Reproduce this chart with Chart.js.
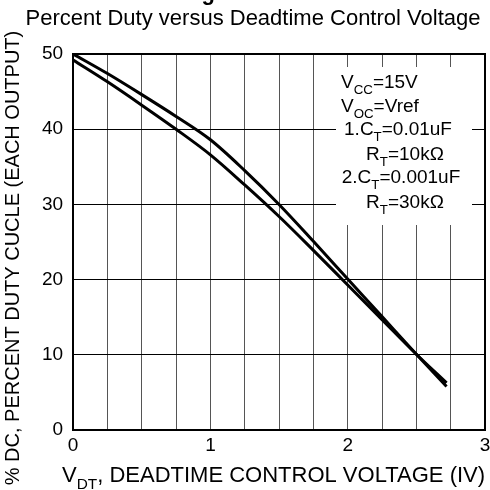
<!DOCTYPE html>
<html>
<head>
<meta charset="utf-8">
<script src="https://cdn.jsdelivr.net/npm/chart.js@4.4.0/dist/chart.umd.min.js"></script>
<style>
  html, body { margin: 0; padding: 0; background: #fff; }
  #wrap { width: 490px; height: 490px; }
</style>
</head>
<body>
<div id="wrap"><canvas id="dutyChart" width="490" height="490"></canvas></div>
<script>
// Data
const voltage = [0, 0.25, 0.5, 0.75, 1.0, 1.25, 1.5, 1.75, 2.0, 2.25, 2.5, 2.72];
const dutyUpper = [50, 47.4, 44.6, 41.7, 38.6, 34.5, 30.0, 25.1, 20.1, 15.1, 10.1, 5.8];
const dutyLower = [49.2, 46.3, 43.2, 40.0, 36.6, 32.6, 28.4, 23.9, 19.3, 14.7, 10.1, 6.3];
const xTicks = [0, 1, 2, 3];
const yTicks = [0, 10, 20, 30, 40, 50];

const FONT = 'Arial, "Liberation Sans", sans-serif';

function toPoints(ys) {
    return voltage.map((v, i) => ({ x: v, y: ys[i] }));
}

// draws text with subscript parts: [[text, isSub], ...]
function drawRich(ctx, parts, x, y, size, align) {
    let total = 0;
    parts.forEach(p => {
        ctx.font = (p[1] ? size * 0.7 : size) + 'px ' + FONT;
        total += ctx.measureText(p[0]).width;
    });
    let cx = align === 'center' ? x - total / 2 : x;
    ctx.textAlign = 'left';
    ctx.textBaseline = 'alphabetic';
    parts.forEach(p => {
        ctx.font = (p[1] ? size * 0.7 : size) + 'px ' + FONT;
        ctx.fillText(p[0], cx, p[1] ? y + size * 0.3 : y);
        cx += ctx.measureText(p[0]).width;
    });
}

const textPlugin = {
    id: 'textPlugin',
    beforeDatasetsDraw(chart) {
        const ctx = chart.ctx;
        ctx.save();
        ctx.fillStyle = '#fff';
        ctx.fillRect(336, 67, 136, 158);
        ctx.restore();
    },
    afterDraw(chart) {
        const ctx = chart.ctx;
        const a = chart.chartArea;
        ctx.save();
        // top and right frame
        ctx.strokeStyle = '#000';
        ctx.lineWidth = 2;
        ctx.beginPath();
        ctx.moveTo(a.left, a.top);
        ctx.lineTo(a.right, a.top);
        ctx.lineTo(a.right, a.bottom);
        ctx.stroke();

        ctx.fillStyle = '#000';
        ctx.font = 'bold 22px ' + FONT;
        ctx.textAlign = 'left';
        ctx.textBaseline = 'alphabetic';
        ctx.fillText('Figure 6', 182, 0);

        ctx.font = '22px ' + FONT;
        ctx.textAlign = 'center';
        ctx.fillText('Percent Duty versus Deadtime Control Voltage', 253, 25);

        drawRich(ctx, [['V', false], ['DT', true], [', DEADTIME CONTROL VOLTAGE (IV)', false]], 62, 482, 22, 'left');

        ctx.save();
        ctx.translate(13, 258);
        ctx.rotate(-Math.PI / 2);
        ctx.font = '20px ' + FONT;
        ctx.textAlign = 'center';
        ctx.textBaseline = 'middle';
        ctx.fillText('% DC, PERCENT DUTY CUCLE (EACH OUTPUT)', 0, 0);
        ctx.restore();

        drawRich(ctx, [['V', false], ['CC', true], ['=15V', false]], 341, 88, 19, 'left');
        drawRich(ctx, [['V', false], ['OC', true], ['=Vref', false]], 341, 112, 19, 'left');
        drawRich(ctx, [['1.C', false], ['T', true], ['=0.01uF', false]], 398, 135, 19, 'center');
        drawRich(ctx, [['R', false], ['T', true], ['=10k\u03A9', false]], 405, 160, 19, 'center');
        drawRich(ctx, [['2.C', false], ['T', true], ['=0.001uF', false]], 401, 183, 19, 'center');
        drawRich(ctx, [['R', false], ['T', true], ['=30k\u03A9', false]], 405, 208, 19, 'center');
        ctx.restore();
    }
};

const ctx = document.getElementById('dutyChart').getContext('2d');
const dutyChart = new Chart(ctx, {
    type: 'line',
    data: {
        datasets: [
            {
                label: 'Curve 1',
                data: toPoints(dutyUpper),
                borderColor: '#000',
                borderWidth: 3,
                pointRadius: 0,
                cubicInterpolationMode: 'monotone',
                fill: false
            },
            {
                label: 'Curve 2',
                data: toPoints(dutyLower),
                borderColor: '#000',
                borderWidth: 3,
                pointRadius: 0,
                cubicInterpolationMode: 'monotone',
                fill: false
            }
        ]
    },
    options: {
        responsive: false,
        animation: false,
        layout: { padding: { left: 32, right: 5, top: 54, bottom: 29 } },
        plugins: {
            legend: { display: false },
            tooltip: { enabled: false }
        },
        scales: {
            x: {
                type: 'linear',
                min: 0,
                max: 3,
                afterBuildTicks: axis => {
                    axis.ticks = [];
                    for (let i = 0; i <= 12; i++) axis.ticks.push({ value: i * 0.25 });
                },
                afterFit: axis => {
                    axis.paddingRight = 0;
                },
                ticks: {
                    color: '#000',
                    font: { size: 19, family: FONT },
                    padding: 4,
                    maxRotation: 0,
                    autoSkip: false,
                    callback: v => xTicks.includes(v) ? String(v) : ''
                },
                grid: { color: '#555', lineWidth: 1, drawTicks: false },
                border: { color: '#000', width: 2 }
            },
            y: {
                min: 0,
                max: 50,
                afterBuildTicks: axis => {
                    axis.ticks = yTicks.map(v => ({ value: v }));
                },
                ticks: {
                    color: '#000',
                    font: { size: 19, family: FONT },
                    padding: 10
                },
                grid: { color: '#000', lineWidth: 1, drawTicks: false },
                border: { color: '#000', width: 2 }
            }
        }
    },
    plugins: [textPlugin]
});
</script>
</body>
</html>
